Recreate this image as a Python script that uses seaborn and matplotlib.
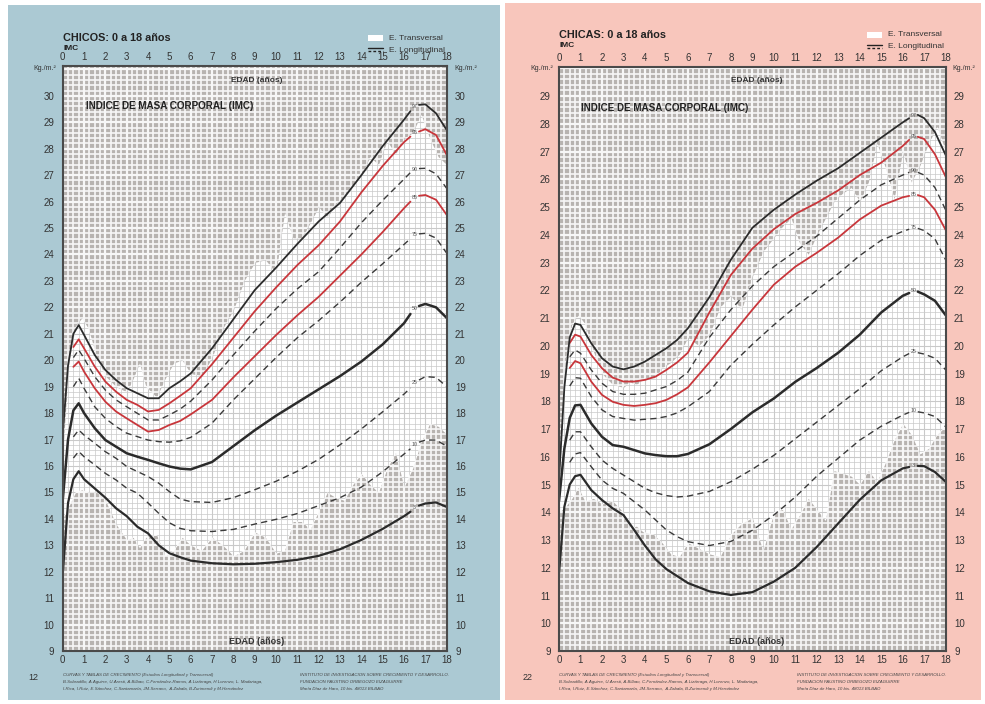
import numpy as np
import pandas as pd
import matplotlib
matplotlib.use("Agg")
import matplotlib.pyplot as plt
import seaborn as sns
from matplotlib.collections import LineCollection
from matplotlib.patches import Rectangle
from matplotlib.lines import Line2D

sns.set_theme(style="white")
plt.rcParams['font.family'] = ['Liberation Sans', 'DejaVu Sans']

N = np.nan
AGES = [0, 0.25, 0.5, 0.75, 1, 1.5, 2, 2.5, 3, 3.5, 4, 4.5, 5, 5.5, 6, 7, 8, 9, 10,
        11, 12, 13, 14, 15, 16, 16.3, 16.7, 17, 17.5, 18]
PCTS = [3, 10, 25, 50, 75, 85, 90, 95, 97]

# ---------------- Boys (CHICOS) percentile curves ----------------
boys_p3 = [11.9, 14.6, 15.5, 15.8, 15.5, 15.15, 14.8, 14.4, 14.1, 13.7, 13.45, 13.0, 12.7, 12.55, 12.42,
           12.32, 12.28, 12.3, 12.36, 12.45, 12.6, 12.85, 13.2, 13.62, 14.1, 14.27, 14.5, 14.58, 14.62, 14.45]
boys_p10 = [N, N, 16.3, 16.55, 16.35, 16.04, 15.72, 15.47, 15.16, 14.97, 14.6, 14.21, 13.85, 13.64, 13.55,
            13.52, 13.6, 13.8, 13.98, 14.2, 14.5, 14.8, 15.2, 15.78, 16.45, 16.65, 16.9, 16.98, 16.98, 16.75]
boys_p25 = [N, N, 17.1, 17.36, 17.17, 16.86, 16.54, 16.29, 15.98, 15.79, 15.6, 15.35, 15.03, 14.75, 14.65,
            14.62, 14.8, 15.1, 15.42, 15.8, 16.25, 16.8, 17.4, 18.05, 18.72, 18.95, 19.25, 19.38, 19.35, 19.0]
boys_p50 = [14.7, 17.0, 18.1, 18.37, 18.0, 17.43, 16.98, 16.73, 16.48, 16.35, 16.23, 16.1, 15.98, 15.9, 15.87,
            16.15, 16.75, 17.35, 17.9, 18.4, 18.9, 19.4, 19.95, 20.6, 21.4, 21.75, 22.05, 22.13, 22.0, 21.6]
boys_p75 = [N, N, 19.0, 19.32, 18.94, 18.24, 17.8, 17.49, 17.24, 17.11, 16.98, 16.92, 16.9, 16.95, 17.08,
            17.62, 18.5, 19.3, 20.1, 20.85, 21.5, 22.2, 22.95, 23.65, 24.38, 24.6, 24.78, 24.8, 24.62, 24.05]
boys_p85 = [N, N, 19.75, 19.95, 19.57, 18.94, 18.43, 18.06, 17.8, 17.55, 17.3, 17.36, 17.55, 17.7, 17.95,
            18.5, 19.35, 20.15, 20.95, 21.7, 22.4, 23.2, 24.0, 24.85, 25.75, 26.0, 26.22, 26.25, 26.07, 25.5]
boys_p90 = [N, N, 20.1, 20.39, 20.07, 19.38, 18.87, 18.5, 18.24, 17.99, 17.74, 17.74, 17.93, 18.15, 18.45,
            19.25, 20.2, 21.1, 21.95, 22.7, 23.35, 24.25, 25.2, 26.05, 26.85, 27.1, 27.25, 27.26, 27.05, 26.5]
boys_p95 = [N, N, 20.5, 20.79, 20.45, 19.76, 19.19, 18.81, 18.5, 18.31, 18.06, 18.12, 18.37, 18.65, 18.94,
            19.85, 20.85, 21.85, 22.75, 23.6, 24.35, 25.25, 26.35, 27.35, 28.25, 28.46, 28.65, 28.74, 28.52, 27.77]
boys_p97 = [17.2, 19.8, 21.0, 21.33, 20.96, 20.2, 19.63, 19.25, 18.94, 18.75, 18.56, 18.56, 18.94, 19.2, 19.5,
            20.45, 21.55, 22.65, 23.5, 24.4, 25.25, 25.95, 27.0, 28.1, 29.1, 29.42, 29.66, 29.68, 29.34, 28.71]

# ---------------- Girls (CHICAS) percentile curves ----------------
girls_p3 = [11.8, 14.2, 15.0, 15.3, 15.35, 14.8, 14.44, 14.14, 13.9, 13.36, 12.8, 12.3, 11.95, 11.7, 11.45,
            11.15, 11.02, 11.12, 11.5, 12.0, 12.75, 13.6, 14.45, 15.15, 15.58, 15.63, 15.67, 15.66, 15.45, 15.1]
girls_p10 = [N, N, 15.8, 16.1, 16.15, 15.64, 15.16, 14.86, 14.68, 14.38, 14.08, 13.72, 13.36, 13.12, 12.94,
             12.8, 12.95, 13.35, 13.9, 14.55, 15.3, 15.95, 16.6, 17.1, 17.5, 17.6, 17.62, 17.58, 17.45, 17.08]
girls_p25 = [N, N, 16.6, 16.9, 16.9, 16.36, 15.88, 15.58, 15.34, 15.1, 14.86, 14.7, 14.6, 14.55, 14.58,
             14.75, 15.1, 15.55, 16.05, 16.65, 17.25, 17.85, 18.45, 19.1, 19.6, 19.72, 19.75, 19.7, 19.55, 19.13]
girls_p50 = [14.4, 16.3, 17.4, 17.85, 17.87, 17.2, 16.72, 16.42, 16.36, 16.24, 16.12, 16.06, 16.02, 16.02, 16.1,
             16.45, 17.0, 17.6, 18.1, 18.7, 19.2, 19.75, 20.4, 21.2, 21.8, 21.9, 21.95, 21.85, 21.62, 21.1]
girls_p75 = [N, N, 18.55, 18.85, 18.83, 18.17, 17.69, 17.45, 17.38, 17.32, 17.35, 17.38, 17.45, 17.58, 17.8,
             18.35, 19.3, 20.05, 20.75, 21.4, 22.0, 22.6, 23.25, 23.8, 24.12, 24.2, 24.23, 24.15, 23.85, 23.09]
girls_p85 = [N, N, 19.2, 19.45, 19.37, 18.71, 18.23, 17.98, 17.87, 17.83, 17.87, 17.93, 18.05, 18.25, 18.5,
             19.4, 20.35, 21.3, 22.2, 22.85, 23.35, 23.9, 24.55, 25.05, 25.35, 25.4, 25.43, 25.35, 24.9, 24.17]
girls_p90 = [N, N, 19.6, 19.85, 19.73, 19.13, 18.65, 18.35, 18.25, 18.25, 18.29, 18.41, 18.53, 18.75, 19.05,
             20.3, 21.3, 22.15, 22.85, 23.4, 23.95, 24.6, 25.25, 25.8, 26.15, 26.25, 26.25, 26.15, 25.7, 24.89]
girls_p95 = [N, N, 20.1, 20.4, 20.33, 19.67, 19.19, 18.85, 18.71, 18.71, 18.77, 18.89, 19.13, 19.4, 19.75,
             21.2, 22.55, 23.5, 24.2, 24.75, 25.15, 25.6, 26.15, 26.6, 27.2, 27.42, 27.53, 27.45, 26.9, 26.09]
girls_p97 = [15.2, 18.5, 20.3, 20.8, 20.75, 20.09, 19.55, 19.25, 19.15, 19.25, 19.43, 19.67, 19.91, 20.21, 20.63,
             21.75, 23.1, 24.25, 24.9, 25.45, 25.95, 26.4, 26.95, 27.5, 28.05, 28.2, 28.32, 28.2, 27.7, 26.87]

# ---------------- Cross-sectional study (E. Transversal) white band ----------------
WHITE_AGES = [0, 0.3, 0.6, 0.9, 1.2, 1.6, 2, 2.5, 3, 3.3, 3.6, 3.9, 4.4, 4.8, 5.2, 5.6, 6, 6.5, 7, 7.5,
              8, 8.5, 9, 9.5, 10, 10.4, 10.8, 11.2, 11.6, 12, 12.4, 12.8, 13.2, 13.6, 14, 14.4, 14.8,
              15.2, 15.6, 16, 16.4, 16.8, 17.2, 17.6, 18]
boys_white_hi = [16.5, 20.0, 21.3, 21.6, 21.2, 20.1, 19.4, 19.0, 18.8, 19.3, 19.9, 19.0, 18.6, 19.3, 19.9,
                 20.0, 19.5, 19.4, 20.1, 21.2, 21.9, 23.0, 23.7, 23.8, 23.3, 25.6, 24.6, 24.6, 25.2, 25.8,
                 25.4, 25.9, 26.2, 26.6, 27.0, 27.7, 27.4, 28.3, 27.8, 28.4, 28.6, 29.3, 28.4, 27.7, 27.4]
boys_white_lo = [14.0, 14.5, 15.0, 15.1, 15.0, 15.0, 14.7, 13.8, 13.2, 13.3, 12.9, 13.3, 13.4, 12.6, 12.8,
                 13.3, 13.0, 12.8, 13.3, 13.0, 12.6, 12.8, 13.5, 13.3, 12.7, 12.8, 13.9, 13.9, 13.6, 14.3,
                 15.0, 14.8, 14.7, 15.3, 15.7, 15.3, 15.0, 15.9, 16.5, 15.2, 15.9, 16.9, 17.6, 17.5, 17.2]
girls_white_hi = [15.0, 19.5, 20.8, 21.1, 20.8, 19.8, 19.0, 18.6, 18.5, 18.7, 18.6, 18.8, 18.8, 19.2, 19.4,
                  19.7, 20.3, 20.0, 20.4, 21.4, 21.8, 21.3, 22.5, 23.4, 23.9, 24.3, 24.6, 23.7, 23.3, 24.0,
                  24.6, 25.2, 25.5, 25.7, 25.2, 25.9, 27.3, 26.4, 25.3, 27.0, 25.9, 26.5, 27.3, 27.9, 27.0]
girls_white_lo = [14.0, 14.2, 14.5, 14.9, 14.4, 14.5, 14.3, 14.4, 14.0, 13.4, 13.5, 13.3, 13.2, 12.9, 12.5,
                  12.4, 12.9, 12.7, 12.5, 12.4, 13.2, 13.6, 13.8, 12.6, 14.0, 14.1, 13.4, 13.9, 14.5, 14.1,
                  13.7, 15.5, 15.4, 15.3, 15.0, 15.5, 15.1, 15.8, 16.6, 17.2, 16.8, 16.1, 16.3, 16.8, 17.1]

AGE_TICKS = list(range(0, 19))

BLUE = '#abc9d3'
PINK = '#f8c6bc'
GRAY_BG = '#b7b3b0'
RED = '#c8363b'
DARK = '#2b2b2b'

STYLE = {
    3: dict(color=DARK, lw=1.6, ls='-'),
    10: dict(color='#3a3a3a', lw=1.0, ls=(0, (4.5, 3))),
    25: dict(color='#3a3a3a', lw=1.0, ls=(0, (4.5, 3))),
    50: dict(color=DARK, lw=1.8, ls='-'),
    75: dict(color='#3a3a3a', lw=1.0, ls=(0, (4.5, 3))),
    85: dict(color=RED, lw=1.3, ls='-'),
    90: dict(color='#3a3a3a', lw=1.0, ls=(0, (4.5, 3))),
    95: dict(color=RED, lw=1.3, ls='-'),
    97: dict(color=DARK, lw=1.3, ls='-'),
}

W, H = 985, 704
fig = plt.figure(figsize=(W / 100, H / 100), dpi=100)
fig.patch.set_facecolor('white')

def fx(x):
    return x / W

def fy(y):
    return 1 - y / H

# panel backgrounds
fig.add_artist(Rectangle((fx(8), fy(700)), fx(500) - fx(8), fy(5) - fy(700),
                         transform=fig.transFigure, facecolor=BLUE, edgecolor='none', zorder=-10))
fig.add_artist(Rectangle((fx(505), fy(700)), fx(981) - fx(505), fy(3) - fy(700),
                         transform=fig.transFigure, facecolor=PINK, edgecolor='none', zorder=-10))


def grid_segments(ymin, ymax):
    segs, lws, lws2 = [], [], []
    for k in range(0, 18 * 4 + 1):
        x = k * 0.25
        segs.append([(x, ymin), (x, ymax)])
        major = (k % 4 == 0)
        lws.append(1.6 if major else 1.2)
        lws2.append(0.8 if major else 0.5)
    ny = int(round((ymax - 9) / 0.2))
    for k in range(0, ny + 1):
        y = 9 + k * 0.2
        segs.append([(0, y), (18, y)])
        major = (k % 5 == 0)
        lws.append(1.6 if major else 1.2)
        lws2.append(0.8 if major else 0.5)
    return segs, lws, lws2


def draw_panel(ax, curves, white_lo, white_hi, ytop, ymax_tick):
    ax.set_facecolor(GRAY_BG)
    segs, lws, lws2 = grid_segments(9, ytop)
    lc = LineCollection(segs, colors='#f7f7f7', linewidths=lws, zorder=1)
    ax.add_collection(lc, autolim=False)
    poly = ax.fill_between(WHITE_AGES, white_lo, white_hi, color='white', lw=0, zorder=2)
    lc2 = LineCollection(segs, colors='#c9c9c9', linewidths=lws2, zorder=3)
    ax.add_collection(lc2, autolim=False)
    lc2.set_clip_path(poly.get_paths()[0], ax.transData)

    rows = []
    for p, vals in zip(PCTS, curves):
        for a, v in zip(AGES, vals):
            if np.isnan(v):
                continue
            seg = 'L' if a <= 16.3 else ('R' if a >= 16.7 else None)
            rows.append(dict(age=a, imc=v, pct=p, seg=seg))
    df = pd.DataFrame(rows)
    for p in PCTS:
        st = STYLE[p]
        for sg in ['L', 'R']:
            d = df[(df.pct == p) & (df.seg == sg)]
            sns.lineplot(data=d, x='age', y='imc', ax=ax, color=st['color'], lw=st['lw'],
                         linestyle=st['ls'], estimator=None, sort=False, zorder=5)
        dl = df[(df.pct == p)]
        v1 = dl[dl.age == 16.3].imc.values[0]
        v2 = dl[dl.age == 16.7].imc.values[0]
        ax.text(16.5, (v1 + v2) / 2 + 0.05, str(p), fontsize=3.8, color='#555555',
                ha='center', va='center', zorder=6)

    ax.set_xlim(0, 18)
    ax.set_ylim(9, ytop)
    ax.set_xticks(AGE_TICKS)
    ax.set_yticks(list(range(9, ymax_tick + 1)))
    ax.set_xlabel('')
    ax.set_ylabel('')
    ax.tick_params(axis='x', top=True, labeltop=True, bottom=True, labelbottom=True,
                   length=0, pad=3, labelsize=7, labelcolor='#333333')
    ax.tick_params(axis='y', left=True, right=True, labelleft=True, labelright=True,
                   length=0, pad=6, labelsize=7, labelcolor='#333333')
    ax.grid(False)
    for s in ax.spines.values():
        s.set_visible(True)
        s.set_color('#4a4a4a')
        s.set_linewidth(1.5)
        s.set_zorder(10)


def header(x0, dy, title, legend_x, kg_left, kg_right, num_x, foot_l, foot_r, edad_x, imc_x, imc_y):
    fig.text(fx(x0), fy(41 - dy), title, fontsize=7.8, fontweight='bold', color='#222222',
             ha='left', va='baseline')
    fig.text(fx(x0), fy(50 - dy), 'IMC', fontsize=6, fontweight='bold', color='#222222',
             ha='left', va='baseline')
    # legend
    fig.add_artist(Rectangle((fx(legend_x), fy(41 - dy)), fx(15), 6 / H, transform=fig.transFigure,
                             facecolor='white', edgecolor='none'))
    fig.text(fx(legend_x + 21), fy(38 - dy), 'E. Transversal', fontsize=6, color='#333333',
             ha='left', va='center')
    fig.add_artist(Line2D([fx(legend_x), fx(legend_x + 15)], [fy(48 - dy), fy(48 - dy)],
                          transform=fig.transFigure, color='#222222', lw=1.0))
    fig.add_artist(Line2D([fx(legend_x), fx(legend_x + 15)], [fy(51 - dy), fy(51 - dy)],
                          transform=fig.transFigure, color='#222222', lw=1.0, ls=(0, (2, 1.5))))
    fig.text(fx(legend_x + 21), fy(50 - dy), 'E. Longitudinal', fontsize=6, color='#333333',
             ha='left', va='center')
    fig.text(fx(kg_left), fy(69), 'Kg./m.²', fontsize=5, color='#333333', ha='right', va='center')
    fig.text(fx(kg_right), fy(69), 'Kg./m.²', fontsize=5, color='#333333', ha='left', va='center')
    fig.text(fx(edad_x), fy(80), 'EDAD (años)', fontsize=6, fontweight='bold', color='#333333',
             ha='center', va='center')
    fig.text(fx(edad_x), fy(641), 'EDAD (años)', fontsize=6.5, fontweight='bold', color='#333333',
             ha='center', va='center')
    fig.text(fx(imc_x), fy(imc_y), 'INDICE DE MASA CORPORAL (IMC)', fontsize=7.1, fontweight='bold',
             color='#222222', ha='left', va='center')
    fig.text(fx(num_x), fy(678), foot_l[0], fontsize=6.5, color='#333333', ha='left', va='center')
    for i, line in enumerate(foot_l[1]):
        fig.text(fx(x0), fy(675 + 7 * i), line, fontsize=3.2, style='italic', color='#444444',
                 ha='left', va='center')
    for i, line in enumerate(foot_r[1]):
        fig.text(fx(foot_r[0]), fy(675 + 7 * i), line, fontsize=3.2, style='italic', color='#444444',
                 ha='left', va='center')


FOOT_L = ['CURVAS Y TABLAS DE CRECIMIENTO (Estudios Longitudinal y Transversal)',
          'B.Sobradillo, A.Aguirre, U.Aresti, A.Bilbao, C.Fernández-Ramos, A.Lizárraga, H.Lorenzo, L. Madariaga,',
          'I.Rica, I.Ruiz, E.Sánchez, C.Santamaría, JM.Serrano,  A.Zabala, B.Zurimendi y M.Hernández']
FOOT_R = ['INSTITUTO DE INVESTIGACION SOBRE CRECIMIENTO Y DESARROLLO.',
          'FUNDACION FAUSTINO ORBEGOZO EIZAGUIRRE',
          'María Díaz de Haro, 10 bis. 48013 BILBAO']

# ---------------- Boys panel ----------------
ax1 = fig.add_axes([fx(62.7), fy(651), fx(446.7) - fx(62.7), fy(66) - fy(651)])
draw_panel(ax1, [boys_p3, boys_p10, boys_p25, boys_p50, boys_p75, boys_p85, boys_p90, boys_p95, boys_p97],
           boys_white_lo, boys_white_hi, 31.13, 30)
header(63, 0, 'CHICOS: 0 a 18 años', 368, 56, 454, 28, ('12', FOOT_L), (300, FOOT_R), 257, 86, 106)

# ---------------- Girls panel ----------------
ax2 = fig.add_axes([fx(559), fy(651), fx(945.7) - fx(559), fy(66.7) - fy(651)])
draw_panel(ax2, [girls_p3, girls_p10, girls_p25, girls_p50, girls_p75, girls_p85, girls_p90, girls_p95, girls_p97],
           girls_white_lo, girls_white_hi, 30.056, 29)
header(559, 3, 'CHICAS: 0 a 18 años', 867, 553, 952, 523, ('22', FOOT_L), (797, FOOT_R), 757, 581, 108)

fig.savefig('out.png', dpi=100)
